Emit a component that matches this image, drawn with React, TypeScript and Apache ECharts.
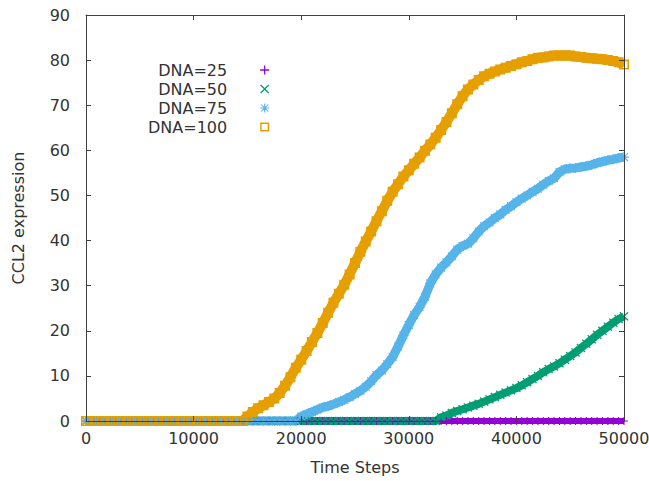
import React, { useEffect, useRef } from "react";
import * as echarts from "echarts";

const timeSteps = [
  0, 500, 1000, 1500, 2000, 2500, 3000, 3500, 4000, 4500,
  5000, 5500, 6000, 6500, 7000, 7500, 8000, 8500, 9000, 9500,
  10000, 10500, 11000, 11500, 12000, 12500, 13000, 13500, 14000, 14500,
  15000, 15500, 16000, 16500, 17000, 17500, 18000, 18500, 19000, 19500,
  20000, 20500, 21000, 21500, 22000, 22500, 23000, 23500, 24000, 24500,
  25000, 25500, 26000, 26500, 27000, 27500, 28000, 28500, 29000, 29500,
  30000, 30500, 31000, 31500, 32000, 32500, 33000, 33500, 34000, 34500,
  35000, 35500, 36000, 36500, 37000, 37500, 38000, 38500, 39000, 39500,
  40000, 40500, 41000, 41500, 42000, 42500, 43000, 43500, 44000, 44500,
  45000, 45500, 46000, 46500, 47000, 47500, 48000, 48500, 49000, 49500,
  50000,
];

const dna25 = [
  0, 0, 0, 0, 0, 0, 0, 0, 0, 0,
  0, 0, 0, 0, 0, 0, 0, 0, 0, 0,
  0, 0, 0, 0, 0, 0, 0, 0, 0, 0,
  0, 0, 0, 0, 0, 0, 0, 0, 0, 0,
  0, 0, 0, 0, 0, 0, 0, 0, 0, 0,
  0, 0, 0, 0, 0, 0, 0, 0, 0, 0,
  0, 0, 0, 0, 0, 0, 0, 0, 0, 0,
  0, 0, 0, 0, 0, 0, 0, 0, 0, 0,
  0, 0, 0, 0, 0, 0, 0, 0, 0, 0,
  0, 0, 0, 0, 0, 0, 0, 0, 0, 0,
  0,
];

const dna50 = [
  0, 0, 0, 0, 0, 0, 0, 0, 0, 0,
  0, 0, 0, 0, 0, 0, 0, 0, 0, 0,
  0, 0, 0, 0, 0, 0, 0, 0, 0, 0,
  0, 0, 0, 0, 0, 0, 0, 0, 0, 0,
  0, 0, 0, 0, 0, 0, 0, 0, 0, 0,
  0, 0, 0, 0, 0, 0, 0, 0, 0, 0,
  0, 0, 0, 0, 0, 0, 0.8, 1.2, 1.8, 2.2,
  2.6, 3, 3.4, 3.8, 4.3, 4.8, 5.3, 5.8, 6.3, 6.8,
  7.3, 7.9, 8.6, 9.3, 10, 10.8, 11.5, 12.1, 12.8, 13.6,
  14.4, 15.2, 16.2, 17.1, 18.1, 19.1, 20, 20.9, 21.8, 22.6,
  23.2,
];

const dna75 = [
  0, 0, 0, 0, 0, 0, 0, 0, 0, 0,
  0, 0, 0, 0, 0, 0, 0, 0, 0, 0,
  0, 0, 0, 0, 0, 0, 0, 0, 0, 0,
  0, 0, 0, 0, 0, 0, 0, 0, 0, 0,
  1, 1.5, 2, 2.5, 3, 3.3, 3.7, 4.2, 4.7, 5.3,
  6, 6.7, 7.6, 8.8, 10.2, 11.2, 12.6, 14.2, 16.5, 19,
  21.3, 23.5, 25.3, 27.5, 30.5, 32.5, 34, 35.2, 36.5, 38,
  38.8, 39.3, 40.5, 42, 43.2, 44, 45, 45.8, 46.8, 47.6,
  48.5, 49.3, 50, 50.8, 51.5, 52.4, 53.2, 53.8, 55.2, 55.8,
  56, 56.1, 56.3, 56.5, 56.8, 57.2, 57.5, 57.8, 58, 58.3,
  58.5,
];

const dna100 = [
  0, 0, 0, 0, 0, 0, 0, 0, 0, 0,
  0, 0, 0, 0, 0, 0, 0, 0, 0, 0,
  0, 0, 0, 0, 0, 0, 0, 0, 0, 0,
  1, 2, 2.8, 3.5, 4.2, 5, 6.2, 7.8, 9.7, 11.8,
  13.6, 15.5, 17.5, 19.5, 21.7, 24, 26.2, 28.2, 30.2, 32.5,
  35, 37.5, 39.8, 42, 44.3, 46.5, 48.8, 50.8, 52.5, 54.2,
  55.6, 57, 58.4, 59.9, 61.3, 62.8, 64.5, 66.3, 68.2, 70.2,
  72, 73.5, 74.6, 75.6, 76.4, 77, 77.5, 77.9, 78.3, 78.7,
  79.1, 79.5, 79.8, 80.2, 80.5, 80.6, 80.8, 81, 81, 81,
  81, 80.8, 80.7, 80.5, 80.4, 80.3, 80.2, 80, 79.8, 79.5,
  79,
];

const seriesNames = ["DNA=25", "DNA=50", "DNA=75", "DNA=100"];
const seriesColors = ["#9400d3", "#009e73", "#56b4e9", "#e69f00"];
const xTicks = { min: 0, max: 50000, interval: 10000 };
const yTicks = { min: 0, max: 90, interval: 10 };

const PLUS = "path://M4.3,0H5.7V4.3H10V5.7H5.7V10H4.3V5.7H0V4.3H4.3Z";
const CROSS =
  "path://M1,0L5,4L9,0L10,1L6,5L10,9L9,10L5,6L1,10L0,9L4,5L0,1Z";
const STAR =
  "path://M4.4,0H5.6V4.4H10V5.6H5.6V10H4.4V5.6H0V4.4H4.4Z M1.5,0.7L5,4.2L8.5,0.7L9.3,1.5L5.8,5L9.3,8.5L8.5,9.3L5,5.8L1.5,9.3L0.7,8.5L4.2,5L0.7,1.5Z";
const SQUARE = "path://M0,0H10V10H0Z M1.6,1.6V8.4H8.4V1.6Z";
const symbols = [PLUS, CROSS, STAR, SQUARE];
const lineWidths = [6, 8, 9, 10];
const symbolSizes = [8, 9, 10, 10];

const FONT = "DejaVu Sans";
const TEXT = "#333333";
const AXIS = "#404040";

export default function App() {
  const ref = useRef<HTMLDivElement>(null);

  useEffect(() => {
    if (!ref.current) return;
    const chart = echarts.init(ref.current, undefined, { renderer: "svg" });
    const all = [dna25, dna50, dna75, dna100];
    const series = all.map((vals, i) => ({
      name: seriesNames[i],
      type: "line",
      data: timeSteps.map((t, k) => [t, vals[k]]),
      symbol: symbols[i],
      symbolSize: symbolSizes[i],
      showSymbol: true,
      showAllSymbol: true,
      silent: true,
      lineStyle: { width: lineWidths[i], color: seriesColors[i] },
      itemStyle: { color: seriesColors[i] },
      emphasis: { disabled: true },
      z: 2,
    }));

    const baseAxisLine = {
      show: true,
      onZero: false,
      lineStyle: { color: AXIS, width: 1 },
    };
    const tick = { show: true, inside: true, length: 5, lineStyle: { color: AXIS } };
    const labelStyle = { fontFamily: FONT, fontSize: 16, color: TEXT };

    chart.setOption({
      animation: false,
      backgroundColor: "#ffffff",
      grid: {
        left: 86,
        right: 25,
        top: 15,
        bottom: 60,
        containLabel: false,
        outerBoundsMode: "none",
      },
      legend: {
        orient: "vertical",
        left: 148,
        top: 62,
        padding: 0,
        align: "right",
        itemWidth: 9,
        itemHeight: 9,
        itemGap: 3,
        selectedMode: false,
        textStyle: {
          fontFamily: FONT,
          fontSize: 16,
          color: TEXT,
          lineHeight: 14,
          padding: [0, 28, 0, 0],
        },
        data: seriesNames.map((n, i) => ({ name: n, icon: symbols[i] })),
      },
      xAxis: [
        {
          type: "value",
          position: "bottom",
          ...xTicks,
          z: 5,
          axisLine: baseAxisLine,
          axisTick: tick,
          splitLine: { show: false },
          axisLabel: { ...labelStyle, margin: 9, formatter: (v: number) => String(v) },
          name: "Time Steps",
          nameLocation: "middle",
          nameGap: 38,
          nameTextStyle: labelStyle,
        },
        {
          type: "value",
          position: "top",
          ...xTicks,
          z: 5,
          axisLine: baseAxisLine,
          axisTick: tick,
          splitLine: { show: false },
          axisLabel: { show: false },
        },
      ],
      yAxis: [
        {
          type: "value",
          position: "left",
          ...yTicks,
          z: 5,
          axisLine: baseAxisLine,
          axisTick: tick,
          splitLine: { show: false },
          axisLabel: { ...labelStyle, margin: 16, formatter: (v: number) => String(v) },
          name: "CCL2 expression",
          nameLocation: "middle",
          nameGap: 60,
          nameTextStyle: labelStyle,
        },
        {
          type: "value",
          position: "right",
          ...yTicks,
          z: 5,
          axisLine: baseAxisLine,
          axisTick: tick,
          splitLine: { show: false },
          axisLabel: { show: false },
        },
      ],
      series,
    });
    return () => chart.dispose();
  }, []);

  return (
    <div
      ref={ref}
      style={{ position: "fixed", left: 0, top: 0, width: 649, height: 481 }}
    />
  );
}
